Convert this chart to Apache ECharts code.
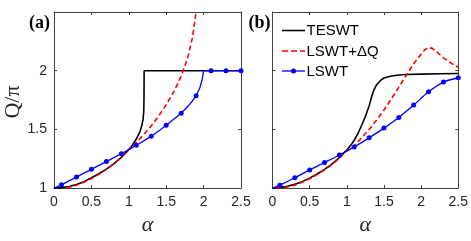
<!DOCTYPE html>
<html>
<head>
<meta charset="utf-8">
<script src="https://cdn.jsdelivr.net/npm/echarts@6/dist/echarts.min.js"></script>
<style>html,body{margin:0;padding:0;background:#fff;}#c{width:471px;height:241px;}</style>
</head>
<body>
<div id="c"></div>
<script>
// ---- data (alpha, Q/pi) ----
const xTicks = [0, 0.5, 1, 1.5, 2, 2.5];
const yTicks = [1, 1.5, 2];
const seriesNames = ['TESWT', 'LSWT+ΔQ', 'LSWT'];

// panel (a)
const aBlackX = [0, 0.1, 0.2, 0.3, 0.4, 0.5, 0.6, 0.7, 0.8, 0.9, 1.0, 1.05, 1.1, 1.15, 1.175, 1.19, 1.2, 1.203, 1.205, 2.5];
const aBlackY = [1, 1.004, 1.014, 1.03, 1.055, 1.088, 1.122, 1.162, 1.207, 1.262, 1.327, 1.367, 1.418, 1.482, 1.535, 1.585, 1.65, 1.75, 2.0, 2.0];
const aRedX = [0.17, 0.3, 0.4, 0.5, 0.6, 0.7, 0.8, 0.9, 1.0, 1.1, 1.2, 1.3, 1.4, 1.5, 1.6, 1.65, 1.7, 1.75, 1.8, 1.85, 1.9];
const aRedY = [1.0, 1.025, 1.05, 1.08, 1.117, 1.16, 1.207, 1.263, 1.33, 1.39, 1.455, 1.53, 1.615, 1.71, 1.82, 1.885, 1.955, 2.04, 2.14, 2.28, 2.5];
const aBlueX = [0, 0.1, 0.2, 0.3, 0.4, 0.5, 0.6, 0.7, 0.8, 0.9, 1.0, 1.1, 1.2, 1.3, 1.4, 1.5, 1.6, 1.7, 1.8, 1.85, 1.9, 1.95, 1.975, 1.99, 2.0, 2.1, 2.2, 2.3, 2.4, 2.5];
const aBlueY = [1, 1.028, 1.061, 1.094, 1.127, 1.16, 1.193, 1.226, 1.259, 1.293, 1.328, 1.365, 1.402, 1.442, 1.487, 1.536, 1.586, 1.638, 1.703, 1.742, 1.787, 1.855, 1.91, 1.96, 2.0, 2.0, 2.0, 2.0, 2.0, 2.0];
const aBlueMarkX = [0.1, 0.3, 0.5, 0.7, 0.9, 1.1, 1.3, 1.5, 1.7, 1.9, 2.1, 2.3, 2.5];

// panel (b)
const bBlackX = [0, 0.1, 0.2, 0.3, 0.4, 0.5, 0.6, 0.7, 0.8, 0.9, 1.0, 1.05, 1.1, 1.15, 1.2, 1.25, 1.3, 1.33, 1.36, 1.4, 1.45, 1.5, 1.6, 1.7, 1.8, 2.0, 2.25, 2.5];
const bBlackY = [1, 1.004, 1.015, 1.032, 1.055, 1.085, 1.12, 1.16, 1.205, 1.26, 1.325, 1.362, 1.408, 1.465, 1.535, 1.61, 1.7, 1.77, 1.83, 1.88, 1.915, 1.938, 1.955, 1.963, 1.967, 1.971, 1.974, 1.976];
const bRedX = [0.05, 0.2, 0.3, 0.4, 0.5, 0.6, 0.7, 0.8, 0.9, 1.0, 1.1, 1.2, 1.3, 1.4, 1.5, 1.6, 1.7, 1.8, 1.9, 2.0, 2.05, 2.1, 2.15, 2.2, 2.3, 2.4, 2.5];
const bRedY = [1.0, 1.01, 1.025, 1.05, 1.08, 1.115, 1.155, 1.2, 1.255, 1.32, 1.362, 1.428, 1.5, 1.578, 1.665, 1.76, 1.86, 1.96, 2.06, 2.14, 2.178, 2.197, 2.19, 2.165, 2.11, 2.065, 2.03];
const bBlueX = [0, 0.1, 0.3, 0.5, 0.7, 0.9, 1.1, 1.3, 1.5, 1.7, 1.9, 2.1, 2.3, 2.5];
const bBlueY = [1, 1.025, 1.088, 1.155, 1.218, 1.282, 1.351, 1.428, 1.511, 1.602, 1.707, 1.82, 1.903, 1.94];
const bBlueMarkX = [0.1, 0.3, 0.5, 0.7, 0.9, 1.1, 1.3, 1.5, 1.7, 1.9, 2.1, 2.3, 2.5];

// ---- build ----
const pairs = (xs, ys) => xs.map((x, i) => [x, ys[i]]);
const marked = (xs, ys, marks) => xs.map((x, i) => {
  const on = marks.some(m => Math.abs(m - x) < 1e-9);
  return on ? { value: [x, ys[i]] } : { value: [x, ys[i]], symbol: 'none' };
});

const AX = '#404040';
const TXT = '#262626';
function xAx(grid, bottom) {
  return {
    type: 'value', gridIndex: grid, min: 0, max: 2.5, interval: 0.5,
    position: bottom ? 'bottom' : 'top',
    axisLine: { show: true, onZero: false, lineStyle: { color: AX, width: 1 } },
    axisTick: { show: true, inside: true, length: 3, lineStyle: { color: AX } },
    axisLabel: { show: bottom, margin: 7, color: TXT, fontFamily: 'Liberation Sans', fontSize: 14,
      formatter: v => (xTicks.includes(v) ? String(v) : '') },
    splitLine: { show: false },
    name: bottom ? 'α' : '', nameLocation: 'middle', nameGap: 25,
    nameTextStyle: { fontFamily: 'Liberation Serif', fontStyle: 'italic', fontSize: 22, color: TXT }
  };
}
function yAx(grid, left, labels) {
  return {
    type: 'value', gridIndex: grid, min: 1, max: 2.5, interval: 0.5,
    position: left ? 'left' : 'right',
    axisLine: { show: true, onZero: false, lineStyle: { color: AX, width: 1 } },
    axisTick: { show: true, inside: true, length: 3, lineStyle: { color: AX } },
    axisLabel: { show: labels, margin: 7, color: TXT, fontFamily: 'Liberation Sans', fontSize: 14,
      formatter: v => (yTicks.includes(v) ? String(v) : '') },
    splitLine: { show: false }
  };
}

const blackStyle = { color: '#000000', width: 1.6 };
const redStyle = { color: '#ff0000', width: 1.6, type: [5, 3] };
const blueStyle = { color: '#0000ff', width: 1.3 };

function lineSeries(name, xi, yi, data, ls, sym) {
  return {
    name: name, type: 'line', xAxisIndex: xi, yAxisIndex: yi, data: data,
    symbol: sym ? 'circle' : 'none', symbolSize: 5, showSymbol: !!sym,
    itemStyle: { color: ls.color }, lineStyle: ls, smooth: false, animation: false,
    clip: true, emphasis: { disabled: true }
  };
}

// legend drawn as graphic (line sample + text)
const legX0 = 282, legX1 = 305, legTextX = 306.5, legRows = [30.5, 51, 71];
const legStyles = [blackStyle, redStyle, blueStyle];
const legendGraphic = [];
seriesNames.forEach((n, i) => {
  const ls = legStyles[i];
  legendGraphic.push({ type: 'line', shape: { x1: legX0, y1: legRows[i], x2: legX1, y2: legRows[i] },
    style: { stroke: ls.color, lineWidth: ls.width, lineDash: Array.isArray(ls.type) ? [6, 3] : null } });
  if (i === 2) legendGraphic.push({ type: 'circle', shape: { cx: (legX0 + legX1) / 2, cy: legRows[i], r: 2.5 }, style: { fill: ls.color } });
  legendGraphic.push({ type: 'text', x: legTextX, y: legRows[i] + 0.5,
    style: { text: n, fontFamily: 'Liberation Sans', fontSize: 15, fill: '#000', textAlign: 'left', textVerticalAlign: 'middle' } });
});

const option = {
  backgroundColor: '#ffffff',
  animation: false,
  grid: [
    { left: 54, right: 230, top: 12, bottom: 48 },
    { left: 272.5, right: 12, top: 12, bottom: 48 }
  ],
  xAxis: [xAx(0, true), xAx(0, false), xAx(1, true), xAx(1, false)],
  yAxis: [yAx(0, true, true), yAx(0, false, false), yAx(1, true, false), yAx(1, false, false)],
  series: [
    lineSeries(seriesNames[0], 0, 0, pairs(aBlackX, aBlackY), blackStyle, false),
    lineSeries(seriesNames[1], 0, 0, pairs(aRedX, aRedY), redStyle, false),
    lineSeries(seriesNames[2], 0, 0, marked(aBlueX, aBlueY, aBlueMarkX), blueStyle, true),
    lineSeries(seriesNames[0], 2, 2, pairs(bBlackX, bBlackY), blackStyle, false),
    lineSeries(seriesNames[1], 2, 2, pairs(bRedX, bRedY), redStyle, false),
    Object.assign(lineSeries(seriesNames[2], 2, 2, marked(bBlueX, bBlueY, bBlueMarkX), blueStyle, true), { smooth: 0.3 })
  ],
  graphic: [
    { type: 'text', x: 13, y: 102, rotation: Math.PI / 2,
      style: { text: 'Q/π', fontFamily: 'Liberation Serif', fontSize: 22, fill: TXT, textAlign: 'center', textVerticalAlign: 'middle' } },
    { type: 'text', x: 50, y: 23,
      style: { text: '(a)', fontFamily: 'Liberation Serif', fontWeight: 'bold', fontSize: 18, fill: '#000', textAlign: 'right', textVerticalAlign: 'middle' } },
    { type: 'text', x: 270.5, y: 23,
      style: { text: '(b)', fontFamily: 'Liberation Serif', fontWeight: 'bold', fontSize: 18, fill: '#000', textAlign: 'right', textVerticalAlign: 'middle' } }
  ].concat(legendGraphic)
};

const chart = echarts.init(document.getElementById('c'), null, { renderer: 'canvas' });
chart.setOption(option);
</script>
</body>
</html>
